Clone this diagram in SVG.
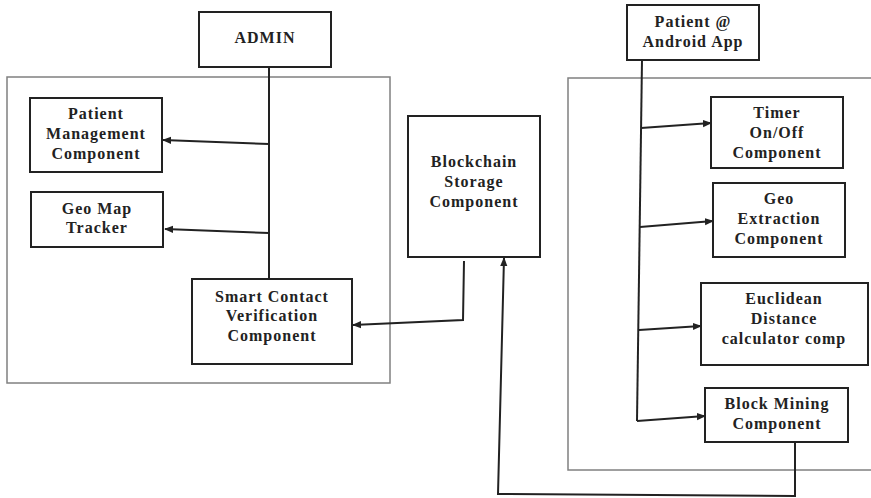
<svg xmlns="http://www.w3.org/2000/svg" width="871" height="498" viewBox="0 0 871 498">
  <style>
    .box { fill: #fff; stroke: #222; stroke-width: 2; }
    .frame { fill: none; stroke: #808080; stroke-width: 1.5; }
    .lbl { font-family: "Liberation Serif", "Times New Roman", serif; font-weight: bold; font-size: 16px; letter-spacing: 1px; fill: #222; text-anchor: middle; }
    .wire { fill: none; stroke: #222; stroke-width: 2; }
  </style>
  <defs>
    <marker id="arrow" viewBox="0 0 10 10" refX="9" refY="5" markerWidth="9" markerHeight="9" markerUnits="userSpaceOnUse" orient="auto">
      <path d="M0,1 L10,5 L0,9 Z" fill="#222"/>
    </marker>
  </defs>

  <!-- container frames -->
  <rect class="frame" x="7" y="77" width="383" height="306"/>
  <rect class="frame" x="568" y="78" width="310" height="392"/>

  <!-- connectors -->
  <g id="connectors">
    <line class="wire" x1="269" y1="67" x2="269" y2="279"/>
    <line class="wire" x1="269" y1="144" x2="163" y2="140" marker-end="url(#arrow)"/>
    <line class="wire" x1="269" y1="233" x2="165" y2="229" marker-end="url(#arrow)"/>
    <polyline class="wire" points="464,261 463,320 353,325" marker-end="url(#arrow)"/>
    <line class="wire" x1="642" y1="60" x2="637" y2="421"/>
    <line class="wire" x1="641" y1="128" x2="711" y2="123" marker-end="url(#arrow)"/>
    <line class="wire" x1="640" y1="227" x2="713" y2="221" marker-end="url(#arrow)"/>
    <line class="wire" x1="639" y1="330" x2="701" y2="326" marker-end="url(#arrow)"/>
    <line class="wire" x1="637" y1="421" x2="705" y2="416" marker-end="url(#arrow)"/>
    <polyline class="wire" points="795,442 795,496 498,494 504,258" marker-end="url(#arrow)"/>
  </g>

  <g id="admin">
    <rect class="box" x="199" y="12" width="132" height="55"/>
    <text class="lbl" x="265" y="43">ADMIN</text>
  </g>

  <g id="patient-management">
    <rect class="box" x="30" y="98" width="132" height="74"/>
    <text class="lbl" x="96" y="119">Patient</text>
    <text class="lbl" x="96" y="139">Management</text>
    <text class="lbl" x="96" y="159">Component</text>
  </g>

  <g id="geo-map-tracker">
    <rect class="box" x="31" y="192" width="132" height="55"/>
    <text class="lbl" x="97" y="214">Geo Map</text>
    <text class="lbl" x="97" y="233">Tracker</text>
  </g>

  <g id="smart-contact">
    <rect class="box" x="192" y="279" width="160" height="85"/>
    <text class="lbl" x="272" y="302">Smart Contact</text>
    <text class="lbl" x="272" y="321">Verification</text>
    <text class="lbl" x="272" y="341">Component</text>
  </g>

  <g id="blockchain-storage">
    <rect class="box" x="408" y="116" width="132" height="141"/>
    <text class="lbl" x="474" y="167">Blockchain</text>
    <text class="lbl" x="474" y="187">Storage</text>
    <text class="lbl" x="474" y="207">Component</text>
  </g>

  <g id="patient-app">
    <rect class="box" x="627" y="5" width="132" height="55"/>
    <text class="lbl" x="693" y="27">Patient @</text>
    <text class="lbl" x="693" y="47">Android App</text>
  </g>

  <g id="timer">
    <rect class="box" x="711" y="97" width="132" height="71"/>
    <text class="lbl" x="777" y="118">Timer</text>
    <text class="lbl" x="777" y="138">On/Off</text>
    <text class="lbl" x="777" y="158">Component</text>
  </g>

  <g id="geo-extraction">
    <rect class="box" x="713" y="183" width="132" height="74"/>
    <text class="lbl" x="779" y="204">Geo</text>
    <text class="lbl" x="779" y="224">Extraction</text>
    <text class="lbl" x="779" y="244">Component</text>
  </g>

  <g id="euclidean">
    <rect class="box" x="701" y="283" width="167" height="82"/>
    <text class="lbl" x="784" y="304">Euclidean</text>
    <text class="lbl" x="784" y="324">Distance</text>
    <text class="lbl" x="784" y="344">calculator comp</text>
  </g>

  <g id="block-mining">
    <rect class="box" x="705" y="388" width="143" height="54"/>
    <text class="lbl" x="777" y="409">Block Mining</text>
    <text class="lbl" x="777" y="429">Component</text>
  </g>
</svg>
